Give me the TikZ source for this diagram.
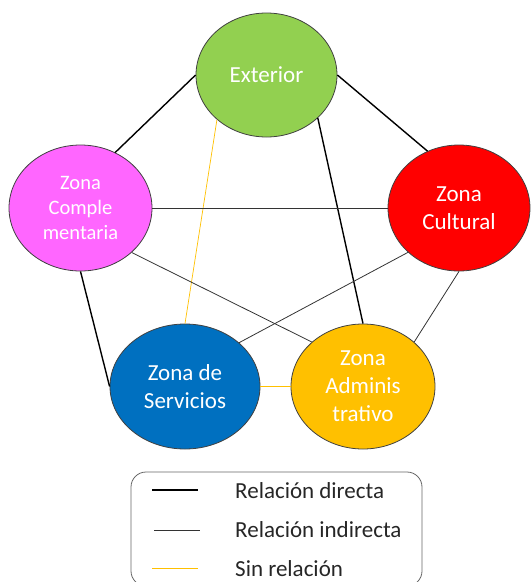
\documentclass[tikz,border=0pt]{standalone}
\usepackage{fontspec}
\setmainfont{Carlito}
\usetikzlibrary{shapes.geometric}
\definecolor{cExt}{HTML}{92D050}
\definecolor{cCom}{HTML}{FF66FF}
\definecolor{cCul}{HTML}{FF0000}
\definecolor{cSer}{HTML}{0070C0}
\definecolor{cAdm}{HTML}{FFC000}
\definecolor{cEdge}{HTML}{404040}
\definecolor{cTxt}{HTML}{262626}
\tikzset{
  zone/.style={ellipse, draw=cEdge, line width=0.8pt, inner sep=0pt, text=white, align=center,
    font=\fontsize{23}{28}\selectfont},
  direct/.style={line width=1.4pt, draw=black},
  indirect/.style={line width=0.8pt, draw=black!80},
  norel/.style={line width=0.7pt, draw=cAdm},
  legtext/.style={anchor=west, text=cTxt, font=\fontsize{23}{28}\selectfont, inner sep=0pt},
}
\begin{document}
\begin{tikzpicture}[x=1pt,y=-1pt]
\useasboundingbox (0,0) rectangle (531,582);
\node[zone, fill=cExt, minimum width=141pt, minimum height=124pt] (ext) at (266.5,75) {Exterior};
\node[zone, fill=cCom, minimum width=143pt, minimum height=126pt, font=\fontsize{20.5}{25}\selectfont] (com) at (80.5,208) {Zona\\Comple\\mentaria};
\node[zone, fill=cCul, minimum width=142pt, minimum height=126pt] (cul) at (459,208) {Zona\\Cultural};
\node[zone, fill=cSer, minimum width=150pt, minimum height=125pt] (ser) at (185,386.5) {Zona de\\Servicios};
\node[zone, fill=cAdm, minimum width=144pt, minimum height=125pt] (adm) at (363,386.5) {Zona\\Adminis\\trativo};
\draw[direct] (ext.west) -- (com.58);
\draw[direct] (ext.east) -- (cul.119);
\draw[direct] (ext.-40) -- (adm.north);
\draw[norel] (ext.-138) -- (ser.north);
\draw[indirect] (com.east) -- (cul.west);
\draw[indirect] (com.-41) -- (adm.139);
\draw[direct] (com.south) -- (ser.west);
\draw[indirect] (cul.-139) -- (ser.39);
\draw[indirect] (cul.south) -- (adm.41);
\draw[norel] (ser.east) -- (adm.west);
% legend
\draw[cEdge!80, line width=0.8pt, rounded corners=15pt] (131,472) rectangle (422,586);
\coordinate (l1a) at (152,490); \coordinate (l1b) at (198,490);
\coordinate (l2a) at (154,530); \coordinate (l2b) at (200,530);
\coordinate (l3a) at (152,568); \coordinate (l3b) at (198,568);
\draw[direct] (l1a) -- (l1b);
\draw[indirect] (l2a) -- (l2b);
\draw[norel] (l3a) -- (l3b);
\node[legtext] (t1) at (235,491) {Relación directa};
\node[legtext] (t2) at (235,530) {Relación indirecta};
\node[legtext] (t3) at (235,569) {Sin relación};
\end{tikzpicture}
\end{document}
